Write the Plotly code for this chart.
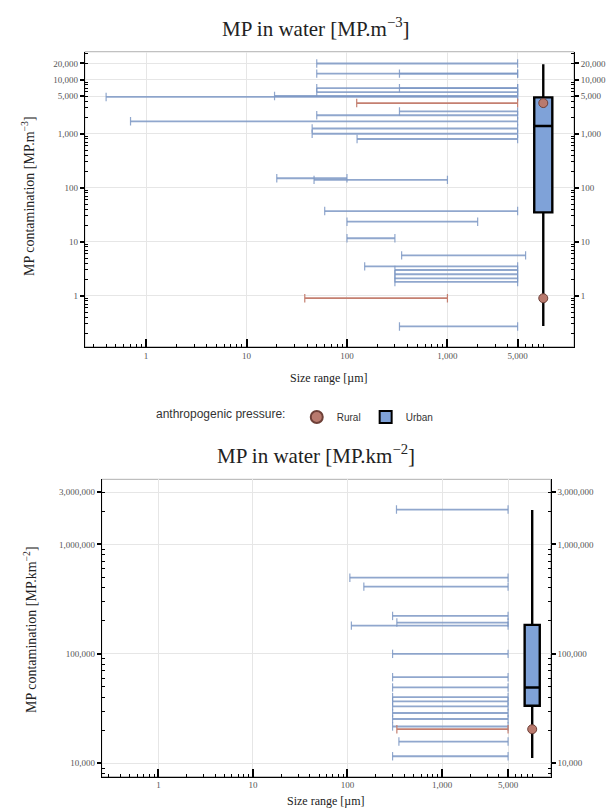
import numpy as np
import plotly.graph_objects as go

# ---------------- data: MP in water [MP.m-3] ----------------
m3_urban_conc = [20000, 13000, 13000, 7000, 7000, 5900, 5000, 4800, 2600, 2200, 1700, 1250, 1000, 800,
                 150, 140, 37, 23.5, 11.6, 5.6, 3.5, 3.0, 2.5, 2.1, 1.8, 0.27]
m3_urban_min = [50, 50, 333, 50, 333, 50, 19, 0.4, 333, 50, 0.7, 45, 45, 126,
                20, 47, 60, 100, 100, 350, 150, 300, 300, 300, 300, 333]
m3_urban_max = [5000, 5000, 5000, 5000, 5000, 5000, 5000, 5000, 5000, 5000, 5000, 5000, 5000, 5000,
                100, 1000, 5000, 2000, 300, 6000, 5000, 5000, 5000, 5000, 5000, 5000]
m3_rural_conc = [3700, 0.9]
m3_rural_min = [125, 38]
m3_rural_max = [5000, 1000]
m3_box = dict(lowerfence=0.275, q1=35, median=1390, q3=4720, upperfence=19400)
m3_yticks = [1, 10, 100, 1000, 5000, 10000, 20000]
m3_yticktext = ["1", "10", "100", "1,000", "5,000", "10,000", "20,000"]

# ---------------- data: MP in water [MP.km-2] ----------------
km2_urban_conc = [2080000, 496000, 411000, 222000, 193000, 181000, 100000, 61200, 49300, 40300,
                  36800, 33100, 28800, 25400, 21700, 15800, 11600]
km2_urban_min = [330, 106, 149, 300, 333, 110, 300, 300, 300, 300, 300, 300, 300, 300, 300, 350, 300]
km2_urban_max = [5000] * 17
km2_rural_conc = [20500]
km2_rural_min = [333]
km2_rural_max = [5000]
km2_box = dict(lowerfence=11200, q1=33600, median=49300, q3=184000, upperfence=2056000)
km2_yticks = [10000, 100000, 1000000, 3000000]
km2_yticktext = ["10,000", "100,000", "1,000,000", "3,000,000"]

x_ticks = [1, 10, 100, 1000, 5000]
x_ticktext = ["1", "10", "100", "1,000", "5,000"]
box_pos = 9000  # position of the summary box on the size axis

URBAN_LINE = "rgba(125,152,196,0.85)"
RURAL_LINE = "#c47f70"
BOX_FILL = "#7fa2d8"
RURAL_FILL = "#b97a6e"
SERIF = "Liberation Serif"
SANS = "Liberation Sans"
TICKC = "#555555"


def seg_xy(xmin, xmax, y):
    xs, ys = [], []
    for a, b, c in zip(xmin, xmax, y):
        xs += [a, b, None]
        ys += [c, c, None]
    return xs, ys


def minor_vals(lo, hi):
    vals = []
    for k in range(lo, hi):
        for m in range(2, 10):
            vals.append(m * 10 ** k)
    return vals


fig = go.Figure()


def add_panel(xa, ya, ya_right, xa_box, urb, rur, box, legend):
    # invisible trace so the right-hand mirror axis is drawn
    fig.add_trace(go.Scatter(x=[None], y=[None], xaxis=xa, yaxis=ya_right, showlegend=False,
                             hoverinfo="skip"))
    ux, uy = seg_xy(urb[1], urb[2], urb[0])
    fig.add_trace(go.Scatter(x=ux, y=uy, mode="lines+markers", xaxis=xa, yaxis=ya,
                             line=dict(color=URBAN_LINE, width=1.8),
                             marker=dict(symbol="line-ns", size=6, line=dict(width=1.2, color=URBAN_LINE)),
                             showlegend=False, hoverinfo="skip"))
    rx, ry = seg_xy(rur[1], rur[2], rur[0])
    fig.add_trace(go.Scatter(x=rx, y=ry, mode="lines+markers", xaxis=xa, yaxis=ya,
                             line=dict(color=RURAL_LINE, width=1.8),
                             marker=dict(symbol="line-ns", size=6, line=dict(width=1.2, color=RURAL_LINE)),
                             showlegend=False, hoverinfo="skip"))
    bp = np.log10(box_pos)
    fig.add_trace(go.Box(x=[bp], q1=[box["q1"]], median=[box["median"]], q3=[box["q3"]],
                         lowerfence=[box["lowerfence"]], upperfence=[box["upperfence"]],
                         xaxis=xa_box, yaxis=ya, width=legend["w"], fillcolor=BOX_FILL,
                         line=dict(color="black", width=2.4), whiskerwidth=0,
                         name="Urban", legendgroup="Urban", showlegend=legend["show"],
                         legendrank=2, hoverinfo="skip"))
    fig.add_trace(go.Scatter(x=[bp] * len(rur[0]), y=rur[0], mode="markers", xaxis=xa_box, yaxis=ya,
                             marker=dict(symbol="circle", size=9, color=RURAL_FILL,
                                         line=dict(color="#6e4038", width=1)),
                             name="Rural", legendgroup="Rural", showlegend=legend["show"],
                             legendrank=1, hoverinfo="skip"))


add_panel("x", "y", "y3", "x3", (m3_urban_conc, m3_urban_min, m3_urban_max),
          (m3_rural_conc, m3_rural_min, m3_rural_max), m3_box, dict(show=True, w=0.18))
add_panel("x2", "y2", "y4", "x4", (km2_urban_conc, km2_urban_min, km2_urban_max),
          (km2_rural_conc, km2_rural_min, km2_rural_max), km2_box, dict(show=False, w=0.16))

tickfont = dict(family=SERIF, size=9, color=TICKC)

top_xr = [-0.61, 4.26]
bot_xr = [-0.60, 4.15]
top_yr = [-0.944, 4.519]
bot_yr = [3.878, 6.594]
top_xd = [0.1377, 0.9318]
bot_xd = [0.1651, 0.8940]
top_yd = [0.5730, 0.9363]
bot_yd = [0.0435, 0.4097]


def xaxis_cfg(dom, rng, anchor):
    return dict(type="log", domain=dom, range=rng, anchor=anchor,
                tickvals=x_ticks, ticktext=x_ticktext, tickfont=tickfont,
                ticks="inside", ticklen=8, tickwidth=1.5, tickcolor="black",
                showline=True, linecolor="black", linewidth=1,
                showgrid=True, gridcolor="#e6e6e6", gridwidth=1, zeroline=False,
                minor=dict(tickvals=minor_vals(-1, 5), ticks="inside", ticklen=3,
                           tickwidth=1, tickcolor="black", showgrid=False))


def yaxis_cfg(dom, rng, anchor, tv, tt, side="left", overlay=None):
    d = dict(type="log", domain=dom, range=rng, anchor=anchor, side=side,
             tickvals=tv, ticktext=tt, tickfont=tickfont,
             ticks="outside", ticklen=4, tickwidth=1.5, tickcolor="black",
             showline=True, linecolor="black", linewidth=1,
             showgrid=overlay is None, gridcolor="#e6e6e6", gridwidth=1, zeroline=False,
             minor=dict(tickvals=minor_vals(-1, 7), ticks="inside", ticklen=3,
                        tickwidth=1, tickcolor="black", showgrid=False))
    if overlay:
        d["overlaying"] = overlay
    return d


fig.update_layout(
    width=616, height=812,
    margin=dict(l=0, r=0, t=0, b=0),
    paper_bgcolor="white", plot_bgcolor="white",
    xaxis=xaxis_cfg(top_xd, top_xr, "y"),
    yaxis=yaxis_cfg(top_yd, top_yr, "x", m3_yticks, m3_yticktext),
    yaxis3=yaxis_cfg(top_yd, top_yr, "x", m3_yticks, m3_yticktext, side="right", overlay="y"),
    xaxis3=dict(domain=top_xd, range=top_xr, anchor="y", overlaying="x", visible=False),
    xaxis2=xaxis_cfg(bot_xd, bot_xr, "y2"),
    yaxis2=yaxis_cfg(bot_yd, bot_yr, "x2", km2_yticks, km2_yticktext),
    yaxis4=yaxis_cfg(bot_yd, bot_yr, "x2", km2_yticks, km2_yticktext, side="right", overlay="y2"),
    xaxis4=dict(domain=bot_xd, range=bot_xr, anchor="y2", overlaying="x2", visible=False),
    legend=dict(orientation="h", x=0.25, xanchor="left", y=1 - 417 / 812, yanchor="middle",
                font=dict(family=SANS, size=10, color="#333333"),
                title=dict(text="anthropogenic pressure: ", font=dict(family=SANS, size=12, color="#333333"),
                           side="left"),
                itemsizing="constant", itemwidth=30, bgcolor="rgba(0,0,0,0)"),
    showlegend=True,
)

# panel borders (grey frame)
for xr_, yr_ in (("x", "y"), ("x2", "y2")):
    fig.add_shape(type="rect", xref=f"{xr_} domain", yref=f"{yr_} domain", x0=0, x1=1, y0=0, y1=1,
                  line=dict(color="#b0b0b0", width=1), layer="below")

ann = []
ann.append(dict(text="MP in water [MP.m<sup>\u22123</sup>]", x=316 / 616, y=1 - 28 / 812,
                yanchor="middle", font=dict(family=SERIF, size=21, color="#222222")))
ann.append(dict(text="MP in water [MP.km<sup>\u22122</sup>]", x=316 / 616, y=1 - 455 / 812,
                yanchor="middle", font=dict(family=SERIF, size=21, color="#222222")))
ann.append(dict(text="Size range [\u00b5m]", x=(top_xd[0] + top_xd[1]) / 2, y=1 - 378 / 812,
                yanchor="middle", font=dict(family=SERIF, size=12, color="#222222")))
ann.append(dict(text="Size range [\u00b5m]", x=(bot_xd[0] + bot_xd[1]) / 2, y=1 - 809 / 812,
                yanchor="bottom", borderpad=0, font=dict(family=SERIF, size=12, color="#222222")))
ann.append(dict(text="MP contamination [MP.m<sup>\u22123</sup>]", x=28 / 616, y=1 - 196 / 812,
                yanchor="middle", textangle=-90, font=dict(family=SERIF, size=14, color="#222222")))
ann.append(dict(text="MP contamination [MP.km<sup>\u22122</sup>]", x=30 / 616, y=1 - 630 / 812,
                yanchor="middle", textangle=-90, font=dict(family=SERIF, size=14, color="#222222")))
for a in ann:
    a.update(xref="paper", yref="paper", showarrow=False, xanchor="center")
fig.update_layout(annotations=ann)

# remove the browser's default 8px body margin so the figure fills the window exactly
fig.write_html("out.html", config={"displayModeBar": False},
               post_script="document.body.style.margin='0px';")
